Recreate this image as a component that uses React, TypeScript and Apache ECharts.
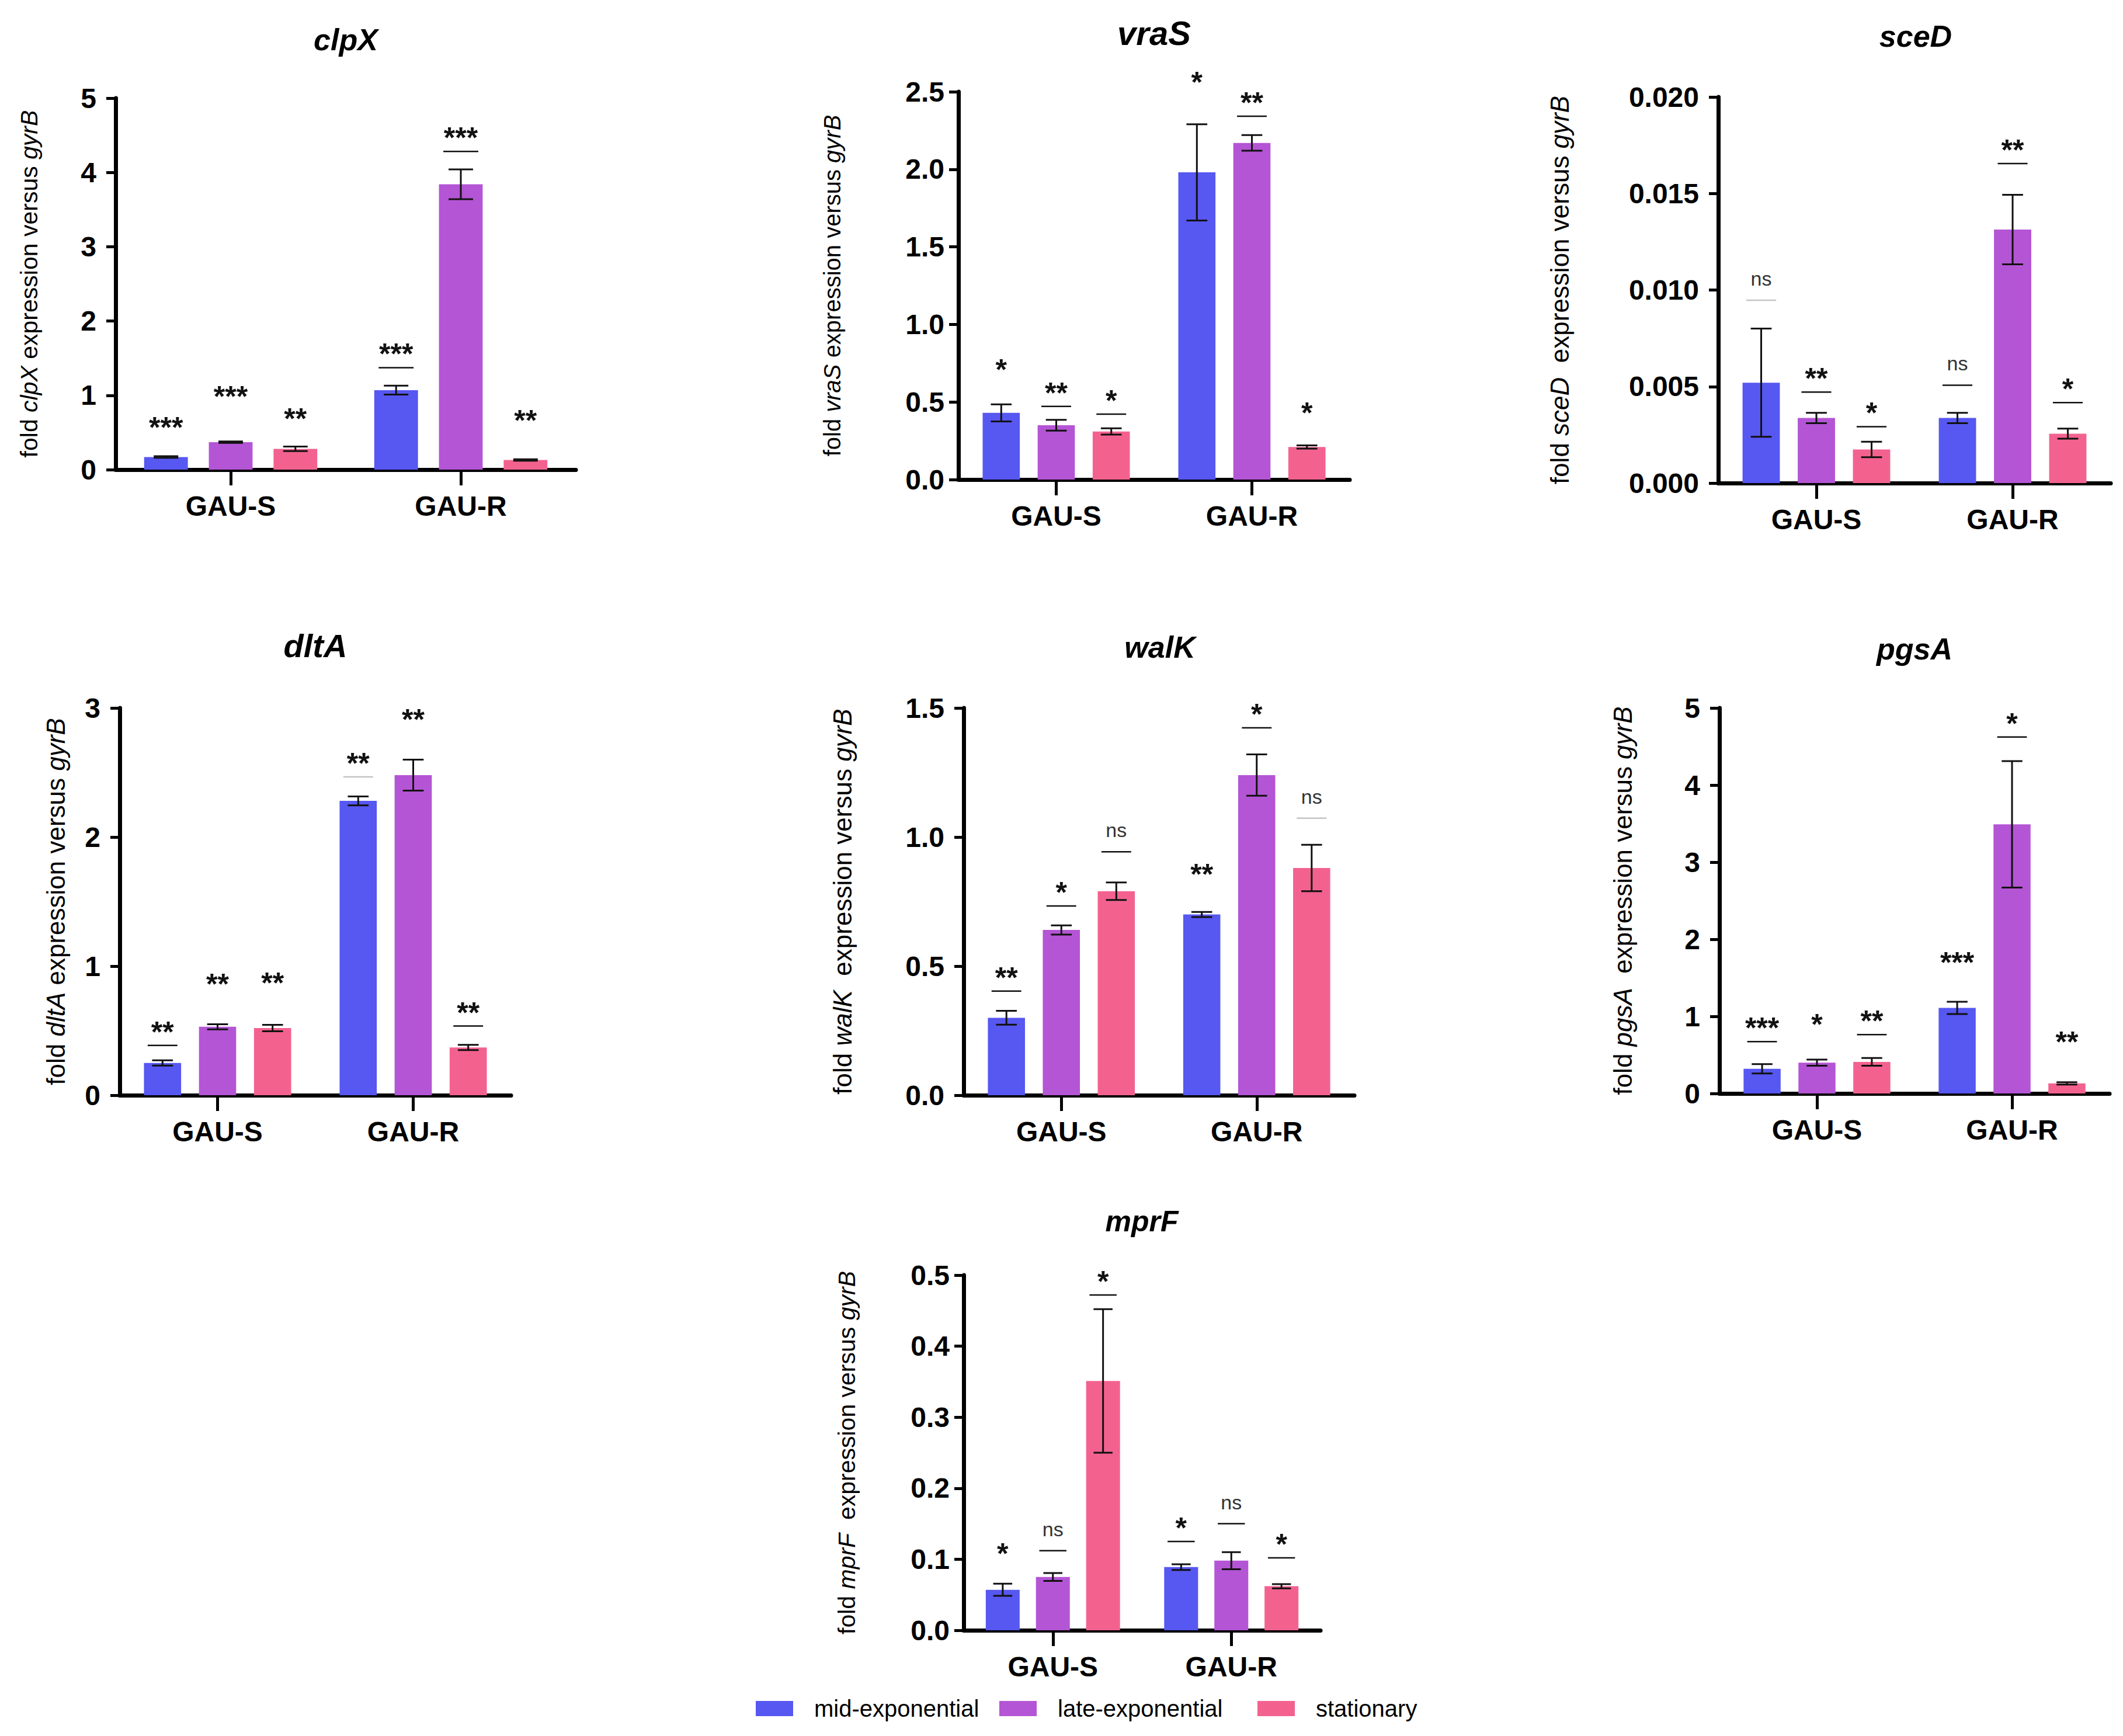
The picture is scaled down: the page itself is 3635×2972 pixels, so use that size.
import React, { useEffect, useRef } from "react";
import * as echarts from "echarts";

const categories = ["GAU-S", "GAU-R"];
const phases = ["mid-exponential", "late-exponential", "stationary"];
const phaseColors = ["#5757F1", "#B455D5", "#F3628F"];

// values: [phase][category]
const clpXMeans = [[0.17, 1.07], [0.37, 3.84], [0.28, 0.13]];
const clpXErrors = [[0.01, 0.06], [0.01, 0.2], [0.03, 0.01]];
const clpXMarks = [["***", "***"], ["***", "***"], ["**", "**"]];
const clpXMarkY = [[0.65, 1.64], [1.07, 4.55], [0.77, 0.75]];
const clpXBars = [["", "k"], ["", "k"], ["", ""]];

const vraSMeans = [[0.43, 1.98], [0.35, 2.17], [0.31, 0.21]];
const vraSErrors = [[0.055, 0.31], [0.035, 0.05], [0.02, 0.01]];
const vraSMarks = [["*", "*"], ["**", "**"], ["*", "*"]];
const vraSMarkY = [[0.75, 2.6], [0.6, 2.47], [0.55, 0.47]];
const vraSBars = [["", ""], ["k", "k"], ["k", ""]];

const sceDMeans = [[0.0052, 0.00337], [0.00337, 0.01313], [0.00174, 0.00256]];
const sceDErrors = [[0.0028, 0.00027], [0.00027, 0.0018], [0.0004, 0.00026]];
const sceDMarks = [["ns", "ns"], ["**", "**"], ["*", "*"]];
const sceDMarkY = [[0.0105, 0.0061], [0.00574, 0.01758], [0.00395, 0.0052]];
const sceDBars = [["g", "k"], ["k", "k"], ["k", "k"]];

const dltAMeans = [[0.25, 2.28], [0.53, 2.48], [0.52, 0.37]];
const dltAErrors = [[0.02, 0.035], [0.02, 0.12], [0.025, 0.02]];
const dltAMarks = [["**", "**"], ["**", "**"], ["**", "**"]];
const dltAMarkY = [[0.54, 2.62], [0.91, 2.96], [0.92, 0.69]];
const dltABars = [["k", "g"], ["", ""], ["", "k"]];

const walKMeans = [[0.3, 0.7], [0.64, 1.24], [0.79, 0.88]];
const walKErrors = [[0.027, 0.01], [0.018, 0.08], [0.034, 0.09]];
const walKMarks = [["**", "**"], ["*", "*"], ["ns", "ns"]];
const walKMarkY = [[0.48, 0.88], [0.81, 1.5], [1.02, 1.15]];
const walKBars = [["k", ""], ["k", "k"], ["k", "g"]];

const pgsAMeans = [[0.32, 1.11], [0.4, 3.49], [0.41, 0.13]];
const pgsAErrors = [[0.06, 0.08], [0.04, 0.82], [0.05, 0.015]];
const pgsAMarks = [["***", "***"], ["*", "*"], ["**", "**"]];
const pgsAMarkY = [[0.93, 1.78], [0.98, 4.88], [1.02, 0.75]];
const pgsABars = [["k", ""], ["", "k"], ["k", ""]];

const mprFMeans = [[0.057, 0.089], [0.075, 0.098], [0.351, 0.062]];
const mprFErrors = [[0.0085, 0.004], [0.0056, 0.012], [0.101, 0.003]];
const mprFMarks = [["*", "*"], ["ns", "ns"], ["*", "*"]];
const mprFMarkY = [[0.117, 0.153], [0.14, 0.178], [0.5, 0.13]];
const mprFBars = [["", "k"], ["k", "k"], ["k", "k"]];

const FONT = "'Liberation Sans', Arial, Helvetica, sans-serif";
const BAR_FRAC = 0.19;
const GAP_FRAC = 0.48;

type Panel = {
  gene: string;
  means: number[][];
  errs: number[][];
  marks: string[][];
  markY: number[][];
  bars: string[][];
  max: number;
  interval: number;
  decimals: number;
  grid: { left: number; top: number; width: number; height: number };
  title: { x: number; y: number; size: number };
  nameSize: number;
  nameGap: number;
  dbl: boolean;
  labelMargin: number;
};

const panels: Panel[] = [
  {
    gene: "clpX", means: clpXMeans, errs: clpXErrors, marks: clpXMarks, markY: clpXMarkY, bars: clpXBars,
    max: 5, interval: 1, decimals: 0,
    grid: { left: 198, top: 168, width: 788, height: 636 },
    title: { x: 592, y: 68, size: 52 }, nameSize: 41, nameGap: 128, dbl: false, labelMargin: 33,
  },
  {
    gene: "vraS", means: vraSMeans, errs: vraSErrors, marks: vraSMarks, markY: vraSMarkY, bars: vraSBars,
    max: 2.5, interval: 0.5, decimals: 1,
    grid: { left: 1641, top: 157, width: 670, height: 664 },
    title: { x: 1976, y: 56, size: 58 }, nameSize: 40, nameGap: 196, dbl: false, labelMargin: 24,
  },
  {
    gene: "sceD", means: sceDMeans, errs: sceDErrors, marks: sceDMarks, markY: sceDMarkY, bars: sceDBars,
    max: 0.02, interval: 0.005, decimals: 3,
    grid: { left: 2942, top: 166, width: 672, height: 661 },
    title: { x: 3280, y: 62, size: 52 }, nameSize: 44, nameGap: 250, dbl: true, labelMargin: 33,
  },
  {
    gene: "dltA", means: dltAMeans, errs: dltAErrors, marks: dltAMarks, markY: dltAMarkY, bars: dltABars,
    max: 3, interval: 1, decimals: 0,
    grid: { left: 205, top: 1212, width: 670, height: 663 },
    title: { x: 540, y: 1105, size: 56 }, nameSize: 44, nameGap: 88, dbl: false, labelMargin: 33,
  },
  {
    gene: "walK", means: walKMeans, errs: walKErrors, marks: walKMarks, markY: walKMarkY, bars: walKBars,
    max: 1.5, interval: 0.5, decimals: 1,
    grid: { left: 1650, top: 1212, width: 669, height: 663 },
    title: { x: 1986, y: 1108, size: 52 }, nameSize: 44, nameGap: 186, dbl: true, labelMargin: 33,
  },
  {
    gene: "pgsA", means: pgsAMeans, errs: pgsAErrors, marks: pgsAMarks, markY: pgsAMarkY, bars: pgsABars,
    max: 5, interval: 1, decimals: 0,
    grid: { left: 2944, top: 1212, width: 668, height: 660 },
    title: { x: 3278, y: 1111, size: 52 }, nameSize: 44, nameGap: 144, dbl: true, labelMargin: 33,
  },
  {
    gene: "mprF", means: mprFMeans, errs: mprFErrors, marks: mprFMarks, markY: mprFMarkY, bars: mprFBars,
    max: 0.5, interval: 0.1, decimals: 1,
    grid: { left: 1650, top: 2183, width: 611, height: 608 },
    title: { x: 1955, y: 2091, size: 50 }, nameSize: 41, nameGap: 180, dbl: true, labelMargin: 24,
  },
];

const legendPos = [1294, 1711, 2153];

function makeRender(p: Panel) {
  const flatMarks: string[] = [];
  const flatBars: string[] = [];
  for (let s = 0; s < 3; s++) {
    for (let c = 0; c < categories.length; c++) {
      flatMarks.push(p.marks[s][c]);
      flatBars.push(p.bars[s][c]);
    }
  }
  return (params: any, api: any) => {
    const ci = api.value(0);
    const mean = api.value(1);
    const err = api.value(2);
    const s = api.value(3);
    const mv = api.value(4);
    const idx = params.dataIndex;
    const band = api.size([1, 0])[0];
    const bw = band * BAR_FRAC;
    const gap = bw * GAP_FRAC;
    const total = 3 * bw + 2 * gap;
    const center = api.coord([ci, 0])[0];
    const x = center - total / 2 + s * (bw + gap) + bw / 2;
    const hiY = api.coord([ci, mean + err])[1];
    const loY = api.coord([ci, mean - err])[1];
    const cap = bw * 0.28;
    const es = { stroke: "#111", lineWidth: 3 };
    const children: any[] = [
      { type: "line", shape: { x1: x, y1: hiY, x2: x, y2: loY }, style: es },
      { type: "line", shape: { x1: x - cap, y1: hiY, x2: x + cap, y2: hiY }, style: es },
      { type: "line", shape: { x1: x - cap, y1: loY, x2: x + cap, y2: loY }, style: es },
    ];
    const label = flatMarks[idx];
    const tone = flatBars[idx];
    const sy = api.coord([ci, mv])[1];
    const isNs = label === "ns";
    children.push({
      type: "text",
      x,
      y: isNs ? sy - 3 : sy + 11,
      style: {
        text: label,
        fill: isNs ? "#333" : "#111",
        fontSize: isNs ? 34 : 50,
        fontWeight: isNs ? "normal" : "bold",
        fontFamily: FONT,
        align: "center",
        verticalAlign: "middle",
        textAlign: "center",
        textVerticalAlign: "middle",
      },
    });
    if (tone) {
      const ly = sy + 34;
      children.push({
        type: "line",
        shape: { x1: x - 0.4 * bw, y1: ly, x2: x + 0.4 * bw, y2: ly },
        style: { stroke: tone === "k" ? "#111" : "#c4c4c4", lineWidth: 2.5 },
      });
    }
    return { type: "group", children };
  };
}

function buildOption() {
  const grid: any[] = [];
  const xAxis: any[] = [];
  const yAxis: any[] = [];
  const series: any[] = [];
  const graphic: any[] = [];

  panels.forEach((p, pi) => {
    grid.push({ ...p.grid, containLabel: false });
    xAxis.push({
      type: "category",
      gridIndex: pi,
      data: categories,
      axisLine: { show: true, lineStyle: { color: "#000", width: 7 } },
      axisTick: { show: true, alignWithLabel: true, interval: 0, length: 27, lineStyle: { color: "#000", width: 5 } },
      axisLabel: { interval: 0, margin: 38, color: "#000", fontSize: 48, fontWeight: "bold", fontFamily: FONT },
      splitLine: { show: false },
    });
    const sp = p.dbl ? "  " : " ";
    yAxis.push({
      type: "value",
      gridIndex: pi,
      min: 0,
      max: p.max,
      interval: p.interval,
      name: `fold {i|${p.gene}}${sp}expression versus {i|gyrB}`,
      nameLocation: "middle",
      nameRotate: 90,
      nameGap: p.nameGap,
      nameTextStyle: {
        color: "#000",
        fontSize: p.nameSize,
        fontFamily: FONT,
        rich: { i: { fontStyle: "italic", fontSize: p.nameSize, fontFamily: FONT, color: "#000" } },
      },
      axisLine: { show: true, lineStyle: { color: "#000", width: 7 } },
      axisTick: { show: true, length: 16, lineStyle: { color: "#000", width: 5 } },
      axisLabel: {
        margin: p.labelMargin,
        color: "#000",
        fontSize: 48,
        fontWeight: "bold",
        fontFamily: FONT,
        formatter: (v: number) => v.toFixed(p.decimals),
      },
      splitLine: { show: false },
    });
    phases.forEach((name, s) => {
      series.push({
        type: "bar",
        name,
        xAxisIndex: pi,
        yAxisIndex: pi,
        data: p.means[s],
        barWidth: `${BAR_FRAC * 100}%`,
        barGap: `${GAP_FRAC * 100}%`,
        itemStyle: { color: phaseColors[s] },
        silent: true,
      });
    });
    const annData: number[][] = [];
    for (let s = 0; s < 3; s++) {
      for (let c = 0; c < categories.length; c++) {
        annData.push([c, p.means[s][c], p.errs[s][c], s, p.markY[s][c]]);
      }
    }
    series.push({
      type: "custom",
      name: `marks-${p.gene}`,
      xAxisIndex: pi,
      yAxisIndex: pi,
      data: annData,
      encode: { x: 0, y: 1 },
      renderItem: makeRender(p),
      clip: false,
      silent: true,
      z: 5,
    });
    graphic.push({
      type: "text",
      x: p.title.x,
      y: p.title.y,
      style: {
        text: p.gene,
        fill: "#000",
        fontSize: p.title.size,
        fontWeight: "bold",
        fontStyle: "italic",
        fontFamily: FONT,
        align: "center",
        verticalAlign: "middle",
        textAlign: "center",
        textVerticalAlign: "middle",
      },
    });
  });

  const legend = phases.map((name, i) => ({
    data: [name],
    left: legendPos[i],
    top: 2905,
    padding: 0,
    icon: "rect",
    itemWidth: 64,
    itemHeight: 26,
    itemGap: 0,
    selectedMode: false,
    textStyle: { color: "#000", fontSize: 40, fontFamily: FONT, padding: [0, 0, 0, 31] },
  }));

  return {
    animation: false,
    backgroundColor: "#ffffff",
    grid,
    xAxis,
    yAxis,
    series,
    legend,
    graphic,
  };
}

export default function App() {
  const ref = useRef<HTMLDivElement>(null);
  useEffect(() => {
    if (!ref.current) return;
    const chart = echarts.init(ref.current, undefined, { renderer: "svg" });
    chart.setOption(buildOption() as any);
    return () => chart.dispose();
  }, []);
  return (
    <div
      ref={ref}
      style={{ position: "absolute", left: 0, top: 0, width: 3635, height: 2972, background: "#fff" }}
    />
  );
}
